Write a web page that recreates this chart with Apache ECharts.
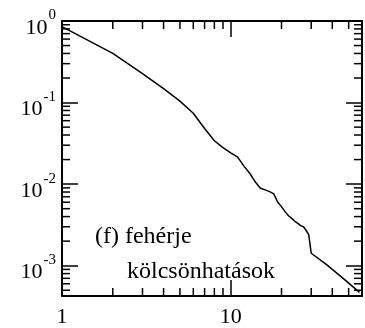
<!DOCTYPE html>
<html>
<head>
<meta charset="utf-8">
<script src="https://cdn.jsdelivr.net/npm/echarts@6/dist/echarts.min.js"></script>
<style>
  html, body { margin: 0; padding: 0; background: #fff; }
  #chart { width: 365px; height: 328px; }
</style>
</head>
<body>
<div id="chart"></div>
<script>
// degree k and cumulative distribution P(k)
const degreeK = [1, 2, 3, 4, 5, 6, 7, 8, 9, 10, 11, 12, 13, 14, 15, 16, 17, 18, 19, 20,
  21, 22, 23, 24, 25, 26, 27, 28, 29, 30, 37, 46, 58];
const cumulativeP = [0.855, 0.40, 0.226, 0.148, 0.104, 0.074, 0.048, 0.034, 0.028, 0.0241,
  0.0214, 0.0165, 0.0135, 0.0106, 0.0089, 0.0085, 0.0081, 0.0076, 0.0060, 0.0053,
  0.0046, 0.0041, 0.0038, 0.0035, 0.0033, 0.0031, 0.0030, 0.0027, 0.0024, 0.00142,
  0.00103, 0.00071, 0.00047];

// axis range and minor tick positions
const X_MIN = 1, X_MAX = 60;
const Y_MIN = 4.25e-4, Y_MAX = 1;
const xMinorTicks = [2, 3, 4, 5, 6, 7, 8, 9, 20, 30, 40, 50];
const yMinorTicks = [
  0.2, 0.3, 0.4, 0.5, 0.6, 0.7, 0.8, 0.9,
  0.02, 0.03, 0.04, 0.05, 0.06, 0.07, 0.08, 0.09,
  0.002, 0.003, 0.004, 0.005, 0.006, 0.007, 0.008, 0.009,
  0.0005, 0.0006, 0.0007, 0.0008, 0.0009
];

const serif = "'Liberation Serif', 'Times New Roman', serif";
const myChart = echarts.init(document.getElementById('chart'));

function isPow10(v) {
  const e = Math.log10(v);
  return Math.abs(e - Math.round(e)) < 1e-6;
}

const tickLine = (x1, y1, x2, y2) => ({
  type: 'line',
  shape: { x1, y1, x2, y2 },
  style: { stroke: '#000', lineWidth: 1.5 }
});

const axisCommon = {
  type: 'log',
  logBase: 10,
  axisLine: { show: true, onZero: false, lineStyle: { color: '#000', width: 2 } },
  axisTick: { show: true, inside: true, length: 16, lineStyle: { color: '#000', width: 1.5 } },
  splitLine: { show: false },
  minorTick: { show: false },
  minorSplitLine: { show: false }
};

const options = {
  animation: false,
  backgroundColor: '#fff',
  grid: { left: 62, right: 3, top: 21, bottom: 26, containLabel: false },
  xAxis: [
    {
      ...axisCommon,
      position: 'bottom',
      min: X_MIN, max: X_MAX,
      axisLabel: {
        show: true, margin: 10, color: '#000', fontFamily: serif, fontSize: 22,
        showMinLabel: true, showMaxLabel: false,
        formatter: v => (isPow10(v) ? String(Math.round(v)) : '')
      }
    },
    {
      ...axisCommon,
      position: 'top',
      min: X_MIN, max: X_MAX,
      axisLabel: { show: false }
    }
  ],
  yAxis: [
    {
      ...axisCommon,
      position: 'left',
      min: Y_MIN, max: Y_MAX,
      axisLabel: {
        show: true, margin: 6, color: '#000', fontFamily: serif,
        showMinLabel: false, showMaxLabel: true,
        formatter: v => (isPow10(v) ? '{a|10}{b|' + Math.round(Math.log10(v)) + '}' : ''),
        rich: {
          a: { fontFamily: serif, fontSize: 22, color: '#000', padding: [14, 0, 0, 0] },
          b: { fontFamily: serif, fontSize: 15, color: '#000', verticalAlign: 'top', padding: [5, 0, 0, 1] }
        }
      }
    },
    {
      ...axisCommon,
      position: 'right',
      min: Y_MIN, max: Y_MAX,
      axisLabel: { show: false }
    }
  ],
  graphic: [
    {
      type: 'text', left: 95, top: 225,
      style: { text: '(f) fehérje', font: '24px ' + serif, fill: '#000' }
    },
    {
      type: 'text', left: 127, top: 260,
      style: { text: 'kölcsönhatások', font: '24px ' + serif, fill: '#000' }
    }
  ],
  series: [
    {
      name: 'P(k)',
      type: 'line',
      xAxisIndex: 0, yAxisIndex: 0,
      data: degreeK.map((k, i) => [k, cumulativeP[i]]),
      showSymbol: false,
      smooth: false,
      lineStyle: { color: '#000', width: 1.5 },
      z: 3
    },
    {
      // minor ticks on bottom and top axes
      type: 'custom',
      xAxisIndex: 0, yAxisIndex: 0,
      clip: false,
      silent: true,
      data: xMinorTicks.map(v => [v, Y_MAX]),
      renderItem: (params, api) => {
        const v = api.value(0);
        const top = api.coord([v, Y_MAX]);
        const bot = api.coord([v, Y_MIN]);
        return {
          type: 'group',
          children: [
            tickLine(top[0], top[1], top[0], top[1] + 8),
            tickLine(bot[0], bot[1], bot[0], bot[1] - 8)
          ]
        };
      }
    },
    {
      // minor ticks on left and right axes
      type: 'custom',
      xAxisIndex: 0, yAxisIndex: 0,
      clip: false,
      silent: true,
      data: yMinorTicks.map(v => [X_MIN, v]),
      renderItem: (params, api) => {
        const v = api.value(1);
        const left = api.coord([X_MIN, v]);
        const right = api.coord([X_MAX, v]);
        return {
          type: 'group',
          children: [
            tickLine(left[0], left[1], left[0] + 8, left[1]),
            tickLine(right[0], right[1], right[0] - 8, right[1])
          ]
        };
      }
    }
  ]
};

myChart.setOption(options);
</script>
</body>
</html>
